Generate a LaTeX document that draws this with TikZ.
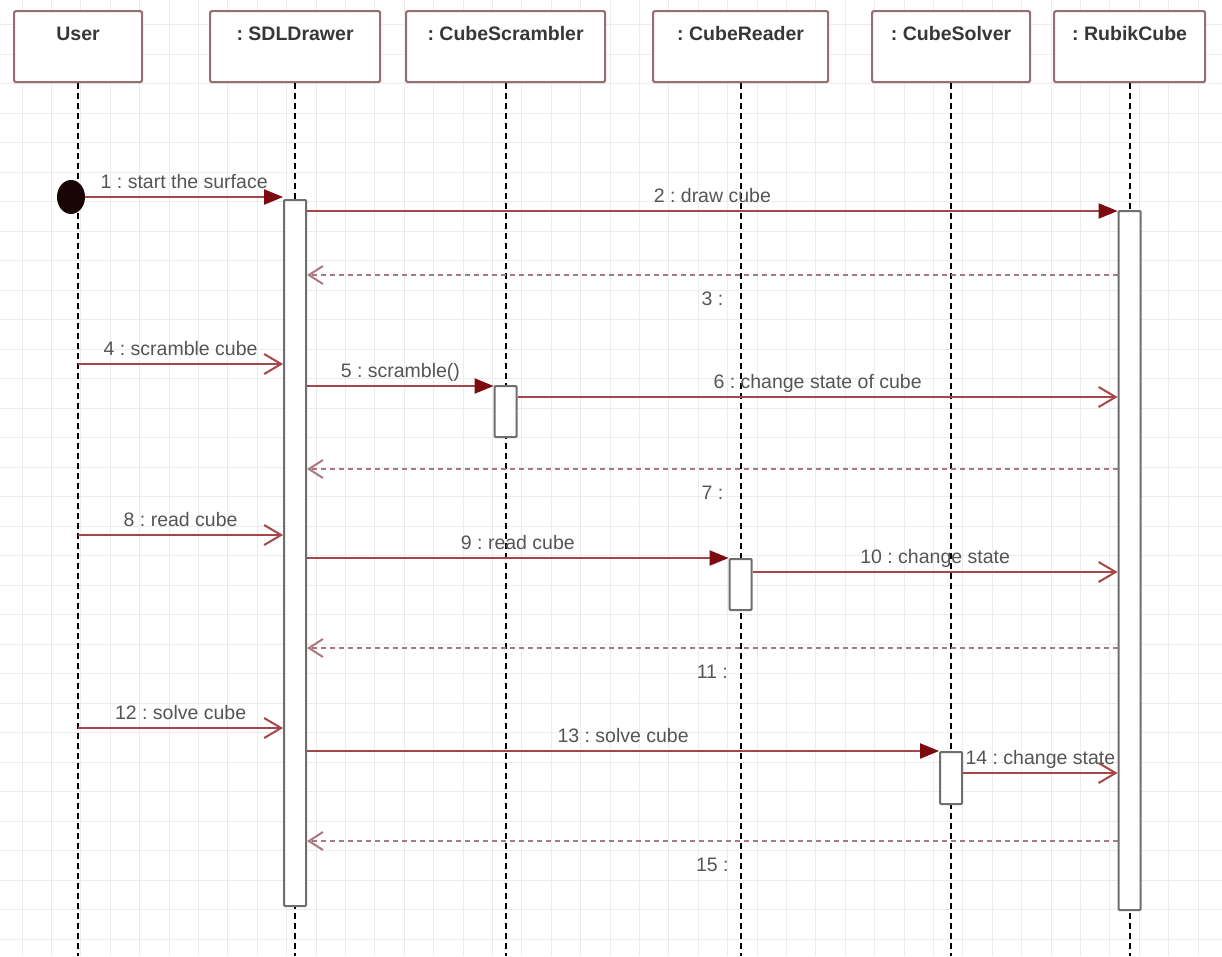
\documentclass[tikz,border=0pt]{standalone}
\usepackage{fontspec}
\setmainfont{Liberation Sans}
\frenchspacing
\usetikzlibrary{arrows.meta,shapes.geometric}

\definecolor{msgline}{RGB}{165,70,75}
\definecolor{headfill}{RGB}{125,10,15}
\definecolor{retline}{RGB}{170,120,130}
\definecolor{boxline}{RGB}{150,110,115}
\definecolor{barline}{RGB}{110,110,110}
\definecolor{gridgray}{RGB}{236,236,236}
\definecolor{headtext}{RGB}{55,55,55}
\definecolor{msgtext}{RGB}{85,85,85}

\tikzset{
  objbox/.style={draw=boxline, line width=2.2pt, rounded corners=2pt, fill=white,
    anchor=north west, inner sep=0pt, minimum height=71pt,
    text height=29pt, text depth=42pt, text=headtext,
    font=\fontsize{19.5}{22}\selectfont\bfseries},
  lifeline/.style={black, line width=1.8pt, dash pattern=on 6pt off 4pt},
  actbar/.style={draw=barline, line width=2pt, fill=white, anchor=north,
    minimum width=22pt, inner sep=0pt, rounded corners=1pt},
  startdot/.style={ellipse, fill={rgb,255:red,25;green,5;blue,5}, minimum width=28pt,
    minimum height=34pt, inner sep=0pt},
  call/.style={msgline, line width=2pt,
    -{Triangle[length=19pt,width=15pt,fill=headfill,color=headfill]}},
  send/.style={msgline, line width=2pt, -{Straight Barb[length=17pt,width=20pt]}},
  reply/.style={retline, line width=2pt, dash pattern=on 5pt off 4pt,
    -{Straight Barb[length=14pt,width=18pt]}},
  msg/.style={inner sep=0pt, text height=14pt, text depth=4.5pt, text=msgtext,
    font=\fontsize{19.5}{22}\selectfont},
}

\begin{document}
\begin{tikzpicture}[x=1pt,y=-1pt]
  \useasboundingbox (0,0) rectangle (1222,956);
  \fill[white] (0,0) rectangle (1222,956);
  % background grid
  \foreach \gx in {22,51.4,...,1222} \draw[gridgray, line width=0.8pt] (\gx,0) -- (\gx,956);
  \foreach \gy in {24.5,54,...,956} \draw[gridgray, line width=0.8pt] (0,\gy) -- (1222,\gy);

  % objects
  \node[objbox, minimum width=128pt] (user) at (13,10) {User};
  \node[objbox, minimum width=170pt] (sdl) at (209,10) {: SDLDrawer};
  \node[objbox, minimum width=199pt] (scr) at (405,10) {: CubeScrambler};
  \node[objbox, minimum width=175pt] (rdr) at (652,10) {: CubeReader};
  \node[objbox, minimum width=158pt] (slv) at (871,10) {: CubeSolver};
  \node[objbox, minimum width=151pt] (rbk) at (1053,10) {: RubikCube};

  % lifelines
  \coordinate (bottom) at (0,956);
  \foreach \obj in {user,sdl,scr,rdr,slv,rbk}
    \draw[lifeline] (\obj.south) -- (\obj.south |- bottom);

  % activations
  \node[actbar, minimum height=706pt] (sdlbar) at (sdl.south |- 0,199) {};
  \node[actbar, minimum height=699pt] (rbkbar) at (rbk.south |- 0,210) {};
  \node[actbar, minimum height=51pt] (scrbar) at (scr.south |- 0,385) {};
  \node[actbar, minimum height=51pt] (rdrbar) at (rdr.south |- 0,558) {};
  \node[actbar, minimum height=52pt] (slvbar) at (slv.south |- 0,751) {};

  % message rows
  \foreach \n/\y in {2/211,3/275,4/364,5/386,6/397,7/469,8/535,9/558,10/572,
                     11/648,12/728,13/751,14/773,15/841}
    \coordinate (r\n) at (0,\y);

  \node[startdot] (init) at (71,197) {};
  \draw[call] (init.east) -- (init.east -| sdlbar.west)
    node[msg, midway, above=3pt] {1 : start the surface};
  \draw[call] (sdlbar.east |- r2) -- (rbkbar.west |- r2)
    node[msg, midway, above=3pt] {2 : draw cube};
  \draw[reply] (rbkbar.west |- r3) -- (sdlbar.east |- r3)
    node[msg, midway, below=15pt] {3 :};

  \draw[send] (user.south |- r4) -- (sdlbar.west |- r4)
    node[msg, midway, above=3pt] {4 : scramble cube};
  \draw[call] (sdlbar.east |- r5) -- (scrbar.west |- r5)
    node[msg, midway, above=3pt] {5 : scramble()};
  \draw[send] (scrbar.east |- r6) -- (rbkbar.west |- r6)
    node[msg, midway, above=3pt] {6 : change state of cube};
  \draw[reply] (rbkbar.west |- r7) -- (sdlbar.east |- r7)
    node[msg, midway, below=15pt] {7 :};

  \draw[send] (user.south |- r8) -- (sdlbar.west |- r8)
    node[msg, midway, above=3pt] {8 : read cube};
  \draw[call] (sdlbar.east |- r9) -- (rdrbar.west |- r9)
    node[msg, midway, above=3pt] {9 : read cube};
  \draw[send] (rdrbar.east |- r10) -- (rbkbar.west |- r10)
    node[msg, midway, above=3pt] {10 : change state};
  \draw[reply] (rbkbar.west |- r11) -- (sdlbar.east |- r11)
    node[msg, midway, below=15pt] {11 :};

  \draw[send] (user.south |- r12) -- (sdlbar.west |- r12)
    node[msg, midway, above=3pt] {12 : solve cube};
  \draw[call] (sdlbar.east |- r13) -- (slvbar.west |- r13)
    node[msg, midway, above=3pt] {13 : solve cube};
  \draw[send] (slvbar.east |- r14) -- (rbkbar.west |- r14)
    node[msg, midway, above=3pt] {14 : change state};
  \draw[reply] (rbkbar.west |- r15) -- (sdlbar.east |- r15)
    node[msg, midway, below=15pt] {15 :};
\end{tikzpicture}
\end{document}
